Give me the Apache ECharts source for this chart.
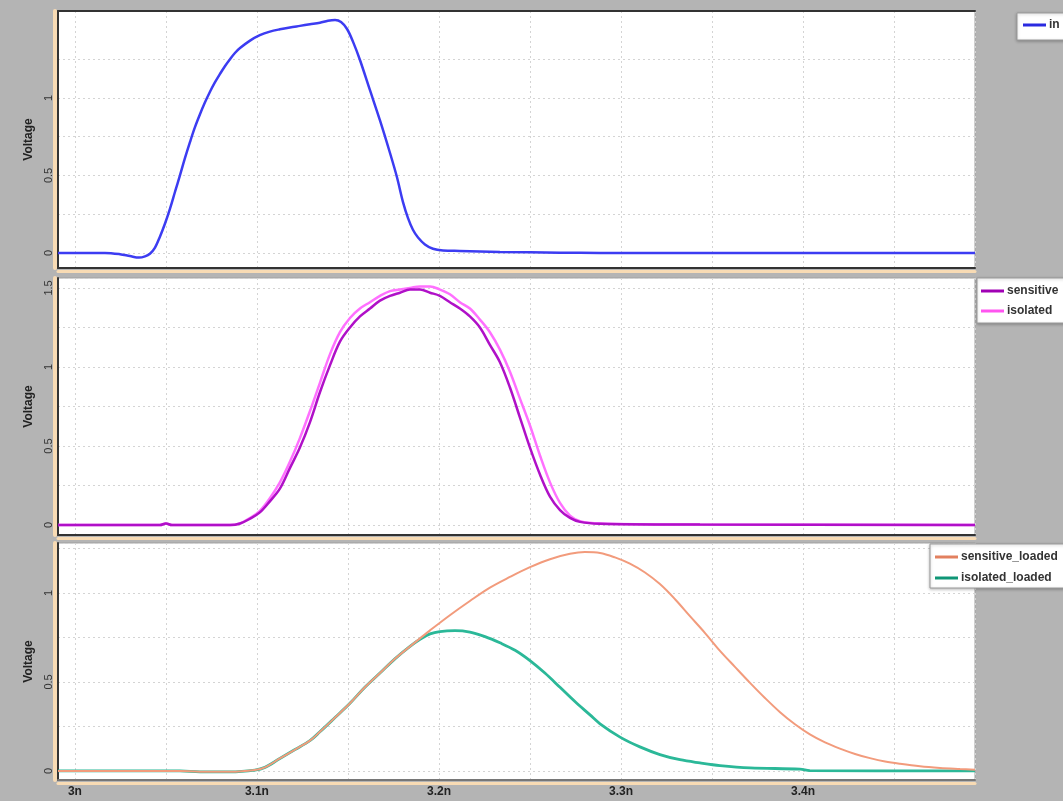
<!DOCTYPE html>
<html><head><meta charset="utf-8">
<script src="https://cdn.jsdelivr.net/npm/echarts@6/dist/echarts.min.js"></script>
<style>html,body{margin:0;padding:0;background:#b4b4b4;}#c{width:1063px;height:801px;}</style>
</head><body><div id="c"></div><script>
// ---- data (time in ns, voltage in V) ----
const tIn = [2.9907,3.0027,3.0165,3.0247,3.0302,3.0352,3.0385,3.0412,3.044,3.0467,3.0495,3.0522,3.055,3.0577,3.0604,3.0632,3.0659,3.0687,3.0714,3.0742,3.0769,3.0797,3.0824,3.0852,3.0879,3.0907,3.0962,3.1016,3.1071,3.1126,3.1181,3.1236,3.1291,3.1346,3.139,3.1429,3.1462,3.1495,3.1527,3.1566,3.1621,3.1676,3.1731,3.1769,3.1802,3.183,3.1857,3.1885,3.1923,3.1967,3.2022,3.2115,3.2335,3.2665,3.2885,3.4945];
const vIn = [0,0,0,-0.008,-0.02,-0.03,-0.022,-0.005,0.035,0.105,0.19,0.285,0.395,0.50,0.61,0.715,0.81,0.895,0.97,1.04,1.10,1.155,1.205,1.25,1.29,1.322,1.37,1.405,1.428,1.443,1.455,1.465,1.475,1.485,1.498,1.503,1.49,1.445,1.365,1.245,1.05,0.855,0.645,0.49,0.33,0.225,0.15,0.10,0.055,0.027,0.016,0.013,0.007,0.002,0,0];

const tMid = [2.9907,3.0467,3.05,3.0533,3.0852,3.0907,3.0962,3.1016,3.1071,3.1126,3.1181,3.1236,3.1291,3.1346,3.1401,3.1456,3.1511,3.1566,3.1621,3.1676,3.1731,3.1786,3.1841,3.1896,3.1951,3.2005,3.206,3.2115,3.217,3.2225,3.228,3.2335,3.239,3.2445,3.25,3.2555,3.261,3.2665,3.272,3.2775,3.2885,3.3434,3.4945];
const vSensitive = [0,0,0.01,0,0,0.01,0.04,0.08,0.15,0.23,0.36,0.49,0.65,0.84,1.01,1.16,1.25,1.32,1.37,1.42,1.45,1.47,1.49,1.49,1.47,1.45,1.41,1.37,1.32,1.25,1.14,1.03,0.87,0.68,0.49,0.32,0.18,0.095,0.045,0.02,0.008,0.003,0];
const vIsolated = [0,0,0.01,0,0,0.01,0.045,0.09,0.17,0.27,0.40,0.55,0.72,0.90,1.08,1.22,1.31,1.37,1.41,1.45,1.48,1.49,1.50,1.51,1.51,1.49,1.46,1.41,1.37,1.30,1.22,1.11,0.97,0.80,0.63,0.44,0.27,0.14,0.06,0.025,0.01,0.003,0];

const tSensLoaded = [2.9907,3.0577,3.0687,3.0852,3.0989,3.1044,3.1126,3.1209,3.1291,3.1346,3.1429,3.1511,3.1593,3.1676,3.1758,3.1841,3.1896,3.1951,3.206,3.217,3.228,3.239,3.25,3.261,3.272,3.2802,3.2885,3.2967,3.3049,3.3132,3.3214,3.3297,3.3379,3.3462,3.3544,3.3626,3.3709,3.3791,3.3874,3.3956,3.4038,3.4121,3.4203,3.4286,3.4368,3.4451,3.4533,3.4643,3.4753,3.4863,3.4945];
const vSensLoaded = [0,0,-0.005,-0.005,0.005,0.02,0.07,0.12,0.17,0.22,0.30,0.38,0.47,0.55,0.63,0.70,0.745,0.79,0.875,0.955,1.03,1.09,1.145,1.19,1.22,1.23,1.225,1.20,1.165,1.115,1.05,0.965,0.87,0.775,0.675,0.585,0.495,0.41,0.33,0.262,0.205,0.16,0.125,0.095,0.072,0.053,0.04,0.026,0.017,0.011,0.007];
const tIsoLoaded = [2.9907,3.0577,3.0687,3.0852,3.0989,3.1044,3.1126,3.1209,3.1291,3.1346,3.1429,3.1511,3.1593,3.1676,3.1758,3.1841,3.1896,3.1951,3.2005,3.2088,3.217,3.2253,3.2335,3.2418,3.25,3.2582,3.2665,3.2747,3.283,3.2885,3.2995,3.3104,3.3214,3.3324,3.3434,3.3544,3.3709,3.3984,3.4038,3.4945];
const vIsoLoaded = [0,0,-0.005,-0.005,0.005,0.02,0.07,0.12,0.17,0.22,0.30,0.38,0.47,0.55,0.63,0.70,0.74,0.77,0.783,0.788,0.78,0.755,0.72,0.678,0.62,0.55,0.47,0.39,0.315,0.265,0.19,0.135,0.092,0.063,0.045,0.03,0.017,0.01,0.002,0];

const xTickLabels = ['3n','3.1n','3.2n','3.3n','3.4n'];
const yTickLabels = [['0','0.5','1'], ['0','0.5','1','1.5'], ['0','0.5','1']];

// ---- layout / style ----
const X_MIN = 2.9907, X_MAX = 3.4945, X_STEP = 0.05, Y_STEP = 0.25;
const yRanges = [[-0.097, 1.561], [-0.063, 1.563], [-0.051, 1.281]];
const grids = [
  {left:58, top:11, width:917, height:257},
  {left:58, top:278, width:917, height:257},
  {left:58, top:543, width:917, height:237}
];
const FONT = '"Liberation Sans", Arial, sans-serif';
const GRID_COLOR = '#d4d4d4';
const TAN = '#f8dbb4';

function fmtX(v){
  const k = Math.round(v / X_STEP);
  if (Math.abs(v / X_STEP - k) > 1e-6 || k % 2) return '';
  const s = (k * X_STEP).toFixed(1).replace(/\.0$/, '') + 'n';
  return xTickLabels.indexOf(s) >= 0 ? s : '';
}
function fmtYFor(i){
  return function(v){
    const k = Math.round(v * 2);
    if (Math.abs(v * 2 - k) > 1e-6) return '';
    const s = String(k / 2);
    return yTickLabels[i].indexOf(s) >= 0 ? s : '';
  };
}
// split-line colours per tick (edge ticks + multiples of Y_STEP); a multiple that
// carries no label above the top label is left out (panel 1 shows no 1.5 line)
function yLineColors(i){
  const [lo, hi] = yRanges[i];
  const cols = [];
  if (lo < 0) cols.push(GRID_COLOR);
  for (let v = 0; v <= hi + 1e-9; v += Y_STEP) {
    const top = parseFloat(yTickLabels[i][yTickLabels[i].length - 1]);
    cols.push(v > top + Y_STEP + 1e-9 ? 'rgba(0,0,0,0)' : GRID_COLOR);
  }
  cols.push(GRID_COLOR);
  return cols;
}
function zip(t, v){ return t.map((x, i) => [x, v[i]]); }

const xAxis = [], yAxis = [];
grids.forEach((g, i) => {
  xAxis.push({type:'value', gridIndex:i, position:'bottom', min:X_MIN, max:X_MAX,
    minInterval:X_STEP, maxInterval:X_STEP,
    axisLine:{show:true, onZero:false, lineStyle:{color:i===2?'#777':'#333', width:2}},
    axisTick:{show:false}, splitLine:{show:true, lineStyle:{color:GRID_COLOR, width:1, type:[2,3]}},
    axisLabel:{show:i===2, formatter:fmtX, fontFamily:FONT, fontWeight:'bold', fontSize:12, color:'#222', margin:6}});
  xAxis.push({type:'value', gridIndex:i, position:'bottom', offset:3, min:X_MIN, max:X_MAX,
    axisLine:{show:true, onZero:false, lineStyle:{color:TAN, width:3}},
    axisTick:{show:false}, axisLabel:{show:false}, splitLine:{show:false}});
  yAxis.push({type:'value', gridIndex:i, position:'left', min:yRanges[i][0], max:yRanges[i][1],
    minInterval:Y_STEP, maxInterval:Y_STEP,
    name:'Voltage', nameLocation:'middle', nameGap:12,
    nameTextStyle:{fontFamily:FONT, fontWeight:'bold', fontSize:12, color:'#222'},
    axisLine:{show:true, onZero:false, lineStyle:{color:'#333', width:2}},
    axisTick:{show:false},
    splitLine:{show:true, lineStyle:{color:yLineColors(i), width:1, type:[2,3]}},
    axisLabel:{rotate:90, margin:4, fontFamily:FONT, fontSize:11, color:'#333', formatter:fmtYFor(i)}});
  yAxis.push({type:'value', gridIndex:i, position:'left', offset:3.5, min:yRanges[i][0], max:yRanges[i][1],
    axisLine:{show:true, onZero:false, lineStyle:{color:TAN, width:4}},
    axisTick:{show:false}, axisLabel:{show:false}, splitLine:{show:false}});
});
// dark top edge of the first panel
xAxis.push({type:'value', gridIndex:0, position:'top', min:X_MIN, max:X_MAX,
  axisLine:{show:true, onZero:false, lineStyle:{color:'#333', width:2}},
  axisTick:{show:false}, axisLabel:{show:false}, splitLine:{show:false}});

const legendBase = {orient:'vertical', selectedMode:false, backgroundColor:'#fff',
  borderColor:'#9a9a9a', borderWidth:1, itemWidth:23, itemHeight:3, icon:'rect',
  shadowBlur:3, shadowColor:'rgba(0,0,0,0.25)', shadowOffsetY:1,
  textStyle:{fontFamily:FONT, fontWeight:'bold', fontSize:12, color:'#333', padding:[0,0,0,-2]}};

const line = (name, data, gi, color, w, z) => ({type:'line', name, data, xAxisIndex:gi*2, yAxisIndex:gi*2,
  showSymbol:false, symbol:'none', smooth:0.35, color, lineStyle:{color, width:w}, z, animation:false});

const option = {
  backgroundColor:'#b4b4b4',
  animation:false,
  grid: grids.map((g, i) => Object.assign({show:true, backgroundColor:'#fff',
    borderColor:'#a0a0a0', borderWidth:1}, g)),
  xAxis, yAxis,
  legend: [
    Object.assign({}, legendBase, {left:1017, top:13, padding:[6,40,9,6], itemGap:6,
      data:[{name:'in', itemStyle:{color:'#2a2ae0'}}]}),
    Object.assign({}, legendBase, {left:977, top:278, padding:[7,40,6,4], itemGap:8,
      data:[{name:'sensitive', itemStyle:{color:'#a000b4'}}, {name:'isolated', itemStyle:{color:'#ff55f0'}}]}),
    Object.assign({}, legendBase, {left:930, top:544, padding:[7,40,4,5], itemGap:9,
      data:[{name:'sensitive_loaded', itemStyle:{color:'#e2805f'}}, {name:'isolated_loaded', itemStyle:{color:'#0f9676'}}]})
  ],
  series: [
    line('in', zip(tIn, vIn), 0, '#3c3cf2', 2.5, 3),
    line('isolated', zip(tMid, vIsolated), 1, '#ff70ff', 2.5, 3),
    line('sensitive', zip(tMid, vSensitive), 1, '#b010c8', 2.5, 4),
    line('isolated_loaded', zip(tIsoLoaded, vIsoLoaded), 2, '#2bb898', 2.8, 3),
    line('sensitive_loaded', zip(tSensLoaded, vSensLoaded), 2, '#f29b7c', 2, 4)
  ]
};
const chart = echarts.init(document.getElementById('c'), null, {renderer:'canvas'});
chart.setOption(option);
</script></body></html>
